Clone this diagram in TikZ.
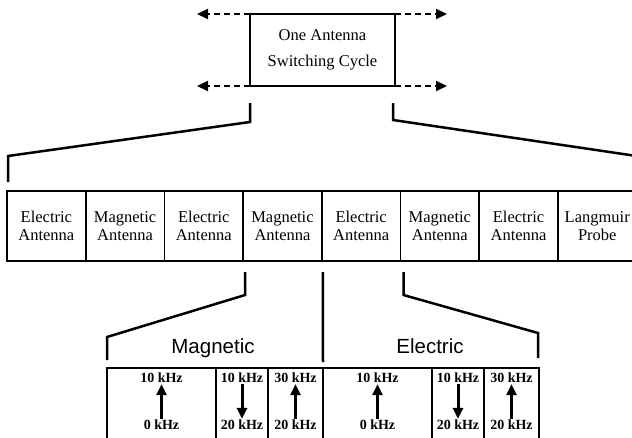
\documentclass[tikz,border=0pt]{standalone}
\usepackage{fontspec}
\setmainfont{Liberation Serif}
\setsansfont{Liberation Sans}
\usetikzlibrary{arrows.meta,calc}

\begin{document}
\begin{tikzpicture}[yscale=-1,x=1pt,y=1pt
,cyclebox/.style={draw=black,line width=2pt,minimum width=145pt,minimum height=72pt,inner sep=0,outer sep=0,align=center,font=\fontsize{16.5}{26}\selectfont}
,antbox/.style={draw=black,line width=1.6pt,minimum width=78.7pt,minimum height=70pt,inner sep=0,outer sep=0,align=center,font=\fontsize{16.5}{18}\selectfont}
,lowbox/.style={draw=black,line width=2pt,minimum height=80pt,inner sep=0,outer sep=0,anchor=north west}
,dasharrow/.style={draw=black,line width=2pt,dash pattern=on 6pt off 4pt,-{Triangle[length=11pt,width=10pt]}}
,bracket/.style={draw=black,line width=2.5pt,line join=miter}
,section/.style={anchor=base,font=\sffamily\fontsize{20.5}{22}\selectfont}
,khz/.style={inner sep=1pt,font=\bfseries\fontsize{14}{15}\selectfont}
,freq/.style={draw=black,line width=3pt,-{Triangle[length=11pt,width=10pt]}}
]
\useasboundingbox (0,0) rectangle (632,437);
\clip (0,0) rectangle (632,437);
% switching cycle
\node[cyclebox] (cycle) at (322.5,50) {One Antenna\\Switching Cycle};
\coordinate (cnw) at (197,14);
\coordinate (csw) at (197,86);
\coordinate (cne) at (447,14);
\coordinate (cse) at (447,86);
\draw[dasharrow] (cycle.north west) -- (cnw);
\draw[dasharrow] (cycle.south west) -- (csw);
\draw[dasharrow] (cycle.north east) -- (cne);
\draw[dasharrow] (cycle.south east) -- (cse);
% antenna row
\foreach \lab [count=\i] in {Electric\\Antenna,Magnetic\\Antenna,Electric\\Antenna,Magnetic\\Antenna,Electric\\Antenna,Magnetic\\Antenna,Electric\\Antenna,Langmuir\\Probe}
  \node[antbox] (a\i) at ({7+78.7*(\i-0.5)},226) {\lab};
\draw[bracket] ($(cycle.south west)+(0,17)$) -- ++(0,19) -- ($(a1.north west)+(1,-35)$) -- ($(a1.north west)+(1,-9)$);
\draw[bracket] ($(cycle.south east)+(-2,17)$) -- ++(0,17) -- ($(a8.north east)+(0,-35)$) -- ($(a8.north east)+(0,-9)$);
% frequency sweeps
\node[lowbox,minimum width=109pt] (m1) at (107,368) {};
\node[lowbox,minimum width=52pt] (m2) at (m1.north east) {};
\node[lowbox,minimum width=55pt] (m3) at (m2.north east) {};
\node[lowbox,minimum width=109pt] (e1) at (m3.north east) {};
\node[lowbox,minimum width=52pt] (e2) at (e1.north east) {};
\node[lowbox,minimum width=55pt] (e3) at (e2.north east) {};
\draw[bracket] ($(a4.south west)+(2,11)$) -- ++(0,23) -- ($(m1.north west)+(0,-31)$) -- ($(m1.north west)+(0,-8)$);
\draw[bracket] ($(a5.south west)+(1,11)$) -- ($(e1.north west)+(0,-6)$);
\draw[bracket] ($(a6.south west)+(3,11)$) -- ++(0,23) -- ($(e3.north east)+(-1,-35)$) -- ($(e3.north east)+(-1,-10)$);
\node[section] (mag) at (213,353) {Magnetic};
\node[section] (ele) at (430,353) {Electric};
\foreach \b/\hi/\lo/\s/\t in {m1/10/0/lo/hi,m2/10/20/hi/lo,m3/30/20/lo/hi,e1/10/0/lo/hi,e2/10/20/hi/lo,e3/30/20/lo/hi}{
  \node[khz] (\b hi) at ($(\b.north)+(0,10)$) {\hi{} kHz};
  \node[khz] (\b lo) at ($(\b.north)+(0,57)$) {\lo{} kHz};
  \draw[freq] (\b\s) -- (\b\t);
}
\end{tikzpicture}
\end{document}
